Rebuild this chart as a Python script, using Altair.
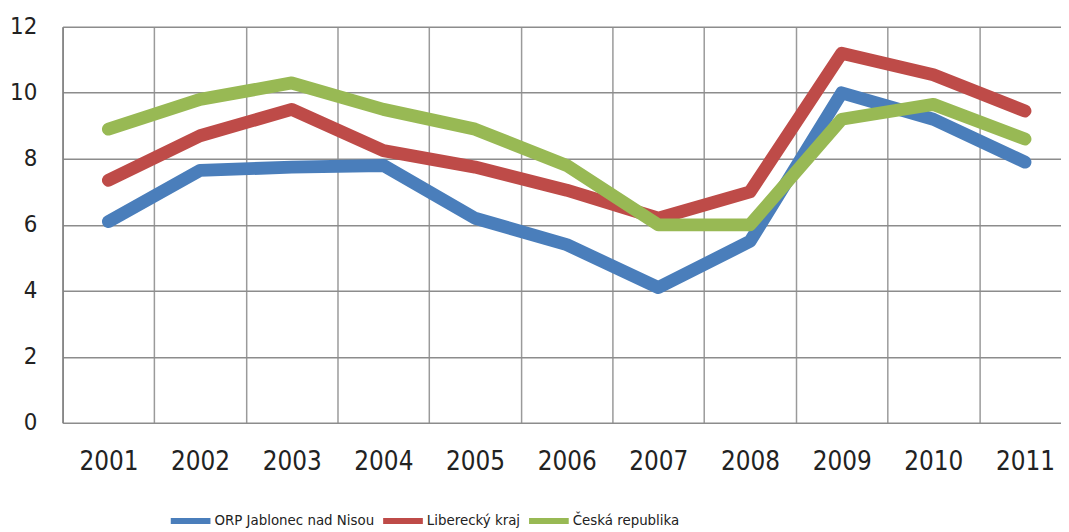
import altair as alt
import pandas as pd

years = [2001, 2002, 2003, 2004, 2005, 2006, 2007, 2008, 2009, 2010, 2011]
series_names = ["ORP Jablonec nad Nisou", "Liberecký kraj", "Česká republika"]
orp = [6.1, 7.65, 7.75, 7.8, 6.2, 5.4, 4.1, 5.5, 10.0, 9.2, 7.9]
kraj = [7.35, 8.7, 9.5, 8.25, 7.75, 7.05, 6.2, 7.0, 11.2, 10.55, 9.45]
cr = [8.9, 9.8, 10.3, 9.5, 8.9, 7.8, 6.0, 6.0, 9.2, 9.65, 8.6]
colors = ["#4A7EBB", "#BE4B48", "#98B954"]
y_ticks = [0, 2, 4, 6, 8, 10, 12]
x_ticks = [2000.5 + 0.5 * i for i in range(22)]

rows = []
for name, vals in zip(series_names, [orp, kraj, cr]):
    for yr, v in zip(years, vals):
        rows.append({"year": yr, "value": v, "series": name})
df = pd.DataFrame(rows)

FONT = "DejaVu Sans Condensed"
LEGEND_FONT = "DejaVu Sans"

chart = alt.Chart(df).mark_line(
    strokeWidth=13, strokeCap="round", strokeJoin="round"
).encode(
    x=alt.X(
        "year:Q",
        scale=alt.Scale(domain=[2000.5, 2011.393], nice=False, zero=False),
        axis=alt.Axis(
            title=None,
            values=x_ticks,
            labelExpr="datum.value % 1 == 0 ? toString(datum.value) : ''",
            labelFont=FONT,
            labelFontSize=26,
            labelColor="#222222",
            labelPadding=26,
            tickSize=0,
            domain=False,
            grid=True,
            gridColor="#9a9a9a",
            gridWidth=1.5,
            gridOpacity={"condition": {"test": "datum.value % 1 != 0", "value": 1}, "value": 0},
            labelFlush=False,
            labelOverlap=False,
        ),
    ),
    y=alt.Y(
        "value:Q",
        scale=alt.Scale(domain=[0, 12], nice=False),
        axis=alt.Axis(
            title=None,
            values=y_ticks,
            labelFont=FONT,
            labelFontSize=24,
            labelColor="#222222",
            labelPadding=26,
            tickSize=0,
            domain=True,
            domainColor="#808080",
            domainWidth=1.5,
            grid=True,
            gridColor="#8c8c8c",
            gridWidth=1.5,
            labelFlush=False,
        ),
    ),
    color=alt.Color(
        "series:N",
        scale=alt.Scale(domain=series_names, range=colors),
        legend=alt.Legend(
            title=None,
            orient="none",
            legendX=106,
            legendY=475,
            direction="horizontal",
            symbolType="stroke",
            symbolSize=1600,
            symbolStrokeWidth=6,
            labelFont=LEGEND_FONT,
            labelFontSize=13.5,
            labelColor="#222222",
            labelOffset=1,
            labelLimit=400,
            columnPadding=-4,
        ),
    ),
).properties(
    width=1006,
    height=399,
    autosize=alt.AutoSizeParams(type="none"),
    padding={"left": 55, "top": 17, "right": 0, "bottom": 108},
).configure_view(strokeWidth=0)

chart.save("out.html", embed_options={"renderer": "svg", "actions": False})
